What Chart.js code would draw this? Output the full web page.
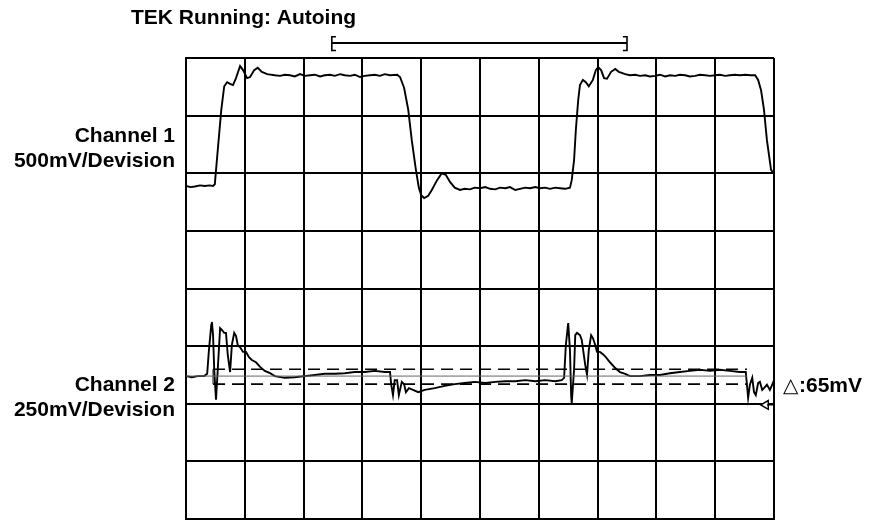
<!DOCTYPE html>
<html lang="en">

<head>
    <meta charset="UTF-8">
    <script src="https://cdn.jsdelivr.net/npm/chart.js@4.4.3/dist/chart.umd.min.js"></script>
    <style>
        html, body {
            margin: 0;
            padding: 0;
            background: #fff;
        }

        #wrap {
            width: 870px;
            height: 521px;
            position: relative;
        }
    </style>
</head>

<body>
    <div id="wrap"><canvas id="scope"></canvas></div>

    <script>
        // screen is 10 x 8 divisions, values below are in divisions
        const ch1Time = [0, 0.08, 0.15, 0.24, 0.32, 0.40, 0.46, 0.49, 0.54, 0.60, 0.65, 0.70, 0.75, 0.80, 0.85, 0.92, 0.97, 1.04, 1.09, 1.16, 1.22, 1.29, 1.38,
            1.51, 1.60, 1.68, 1.77, 1.85, 1.94, 2.02, 2.11, 2.19, 2.28, 2.36, 2.45, 2.53, 2.62, 2.70, 2.79, 2.87, 2.96, 3.04, 3.13, 3.21, 3.30, 3.38, 3.47, 3.59,
            3.64, 3.71, 3.78, 3.84, 3.91, 3.96, 4.00, 4.05, 4.12, 4.18, 4.27, 4.35, 4.42, 4.49, 4.57,
            4.66, 4.74, 4.83, 4.91, 5.00, 5.09, 5.17, 5.26, 5.34, 5.43, 5.51, 5.60, 5.68, 5.77, 5.85, 5.94, 6.02, 6.11, 6.19, 6.28, 6.36, 6.45, 6.53,
            6.56, 6.60, 6.63, 6.67, 6.70, 6.75, 6.80, 6.85, 6.92, 6.97, 7.01, 7.06, 7.11, 7.16, 7.23, 7.30, 7.36,
            7.47, 7.55, 7.64, 7.72, 7.81, 7.89, 7.98, 8.06, 8.15, 8.23, 8.32, 8.40, 8.49, 8.57, 8.66, 8.74, 8.83, 8.91, 9.00, 9.08, 9.17, 9.25, 9.34, 9.42, 9.51, 9.60, 9.68,
            9.73, 9.78, 9.83, 9.88, 9.95, 10.0];
        const ch1Level = [5.78, 5.76, 5.77, 5.79, 5.78, 5.79, 5.78, 5.81, 6.40, 7.10, 7.51, 7.58, 7.55, 7.53, 7.65, 7.86, 7.79, 7.65, 7.67, 7.79, 7.83, 7.76, 7.72,
            7.70, 7.69, 7.71, 7.70, 7.68, 7.72, 7.69, 7.70, 7.71, 7.68, 7.70, 7.71, 7.69, 7.72, 7.70, 7.69, 7.71, 7.67, 7.69, 7.70, 7.71, 7.69, 7.72, 7.70, 7.71,
            7.67, 7.48, 7.10, 6.57, 6.06, 5.75, 5.62, 5.57, 5.61, 5.71, 5.88, 6.00, 5.97, 5.85, 5.75,
            5.71, 5.73, 5.72, 5.75, 5.74, 5.76, 5.73, 5.72, 5.75, 5.74, 5.76, 5.71, 5.73, 5.75, 5.74, 5.76, 5.74, 5.75, 5.73, 5.75, 5.74, 5.73, 5.75,
            5.88, 6.23, 6.75, 7.27, 7.53, 7.62, 7.58, 7.51, 7.62, 7.79, 7.84, 7.79, 7.65, 7.64, 7.76, 7.81, 7.76,
            7.72, 7.70, 7.71, 7.69, 7.70, 7.68, 7.69, 7.71, 7.68, 7.70, 7.69, 7.71, 7.70, 7.68, 7.69, 7.71, 7.70, 7.69, 7.70, 7.71, 7.69, 7.70, 7.71, 7.70, 7.71, 7.70, 7.70,
            7.62, 7.44, 7.10, 6.57, 6.06, 5.99];

        const ch2Time = [0, 0.10, 0.20, 0.31, 0.36, 0.39, 0.43, 0.44, 0.46, 0.48, 0.51, 0.54, 0.58, 0.61, 0.65, 0.68, 0.71, 0.75, 0.78, 0.82, 0.85, 0.88, 0.92,
            0.97, 1.02, 1.07, 1.12, 1.19, 1.26, 1.34, 1.43, 1.51, 1.68, 1.85, 2.02, 2.19, 2.36, 2.53, 2.70, 2.87, 3.04, 3.21, 3.38, 3.47,
            3.49, 3.52, 3.55, 3.59, 3.62, 3.67, 3.71, 3.74, 3.79, 3.86, 3.95, 4.06, 4.23, 4.40, 4.57, 4.74, 4.91, 5.09, 5.26, 5.43, 5.60, 5.77, 5.94, 6.11, 6.28, 6.39,
            6.43, 6.46, 6.50, 6.53, 6.55, 6.56, 6.60, 6.62, 6.65, 6.70, 6.73, 6.79, 6.82, 6.85, 6.89, 6.92, 6.96, 6.99, 7.04, 7.09, 7.14, 7.21, 7.30, 7.38, 7.47,
            7.55, 7.72, 7.89, 8.06, 8.23, 8.40, 8.57, 8.74, 8.91, 9.08, 9.25, 9.42, 9.52,
            9.54, 9.56, 9.59, 9.63, 9.66, 9.69, 9.73, 9.76, 9.80, 9.83, 9.88, 9.93, 9.97, 10.0];
        const ch2Level = [2.48, 2.46, 2.48, 2.48, 2.52, 2.93, 3.37, 3.42, 3.19, 2.59, 2.07, 2.59, 3.31, 3.28, 3.23, 3.23, 2.85, 2.55, 3.02, 3.23, 3.18, 3.02, 2.98,
            2.90, 2.90, 2.81, 2.76, 2.72, 2.64, 2.57, 2.53, 2.48, 2.45, 2.46, 2.48, 2.50, 2.52, 2.52, 2.53, 2.55, 2.55, 2.57, 2.55, 2.55,
            2.33, 2.15, 2.41, 2.41, 2.15, 2.38, 2.34, 2.20, 2.27, 2.24, 2.20, 2.24, 2.27, 2.31, 2.34, 2.36, 2.38, 2.36, 2.38, 2.39, 2.39, 2.41, 2.39, 2.41, 2.39, 2.41,
            2.45, 3.02, 3.40, 2.93, 2.15, 2.01, 2.59, 3.19, 3.23, 3.19, 3.11, 2.67, 2.50, 2.93, 3.19, 3.14, 3.02, 2.90, 2.90, 2.86, 2.81, 2.72, 2.62, 2.55, 2.52,
            2.48, 2.48, 2.50, 2.50, 2.53, 2.55, 2.57, 2.59, 2.57, 2.59, 2.57, 2.55, 2.55,
            2.33, 2.10, 2.33, 2.45, 2.20, 2.15, 2.36, 2.38, 2.24, 2.27, 2.33, 2.24, 2.33, 2.41];

        // measurement cursors on channel 2
        const cursorStart = 0.46;
        const cursorEnd = 9.54;
        const cursorHigh = 2.60;
        const cursorLow = 2.34;
        const ch2Reference = 2.48;
        const ch2Ground = 1.98;

        // time bracket above the screen
        const bracketStart = 2.48;
        const bracketEnd = 7.50;
        const bracketLevel = 8.26;
        const bracketTop = 8.37;
        const bracketBottom = 8.13;

        const titleText = "TEK Running: Autoing";
        const channelLabels = [["Channel 1", "500mV/Devision"], ["Channel 2", "250mV/Devision"]];
        const deltaText = ":65mV";

        function points(xs, ys) {
            return xs.map((x, i) => ({ x: x, y: ys[i] }));
        }

        function line_set(data, opts) {
            return Object.assign({
                data: data,
                borderColor: "#000",
                borderWidth: 1.9,
                pointRadius: 0,
                tension: 0,
                fill: false
            }, opts || {});
        }

        const labelFont = "bold 21px 'Liberation Sans', Arial, sans-serif";

        let textPlugin = {
            id: "scopeText",
            afterDraw(chart) {
                let c = chart.ctx;
                let area = chart.chartArea;
                c.save();
                c.fillStyle = "#000";
                c.font = labelFont;
                c.textAlign = "left";
                c.textBaseline = "alphabetic";
                c.fillText(titleText, 131, 24);

                c.textAlign = "right";
                c.fillText(channelLabels[0][0], area.left - 11, 142);
                c.fillText(channelLabels[0][1], area.left - 11, 167);
                c.fillText(channelLabels[1][0], area.left - 11, 391);
                c.fillText(channelLabels[1][1], area.left - 11, 416);

                // delta readout
                c.textAlign = "left";
                c.font = "20px 'DejaVu Sans', sans-serif";
                c.fillText("\u25B3", area.right + 9, 392);
                c.font = labelFont;
                c.fillText(deltaText, area.right + 25, 392);
                c.restore();
            }
        };

        let bgPlugin = {
            id: "whiteBg",
            beforeDraw(chart) {
                let c = chart.ctx;
                c.save();
                c.fillStyle = "#fff";
                c.fillRect(0, 0, chart.width, chart.height);
                c.restore();
            }
        };

        let ctx = document.getElementById("scope");
        let chartjs = new Chart(ctx, {
            type: "line",
            data: {
                datasets: [
                    line_set([{ x: 0, y: ch2Reference }, { x: cursorEnd, y: ch2Reference }], { borderColor: "#666", borderWidth: 1 }),
                    line_set([{ x: cursorStart, y: cursorHigh }, { x: cursorEnd, y: cursorHigh }], { borderDash: [12, 7], borderWidth: 1.6 }),
                    line_set([{ x: cursorStart, y: cursorLow }, { x: cursorEnd, y: cursorLow }], { borderDash: [12, 7], borderWidth: 1.6 }),
                    line_set([{ x: cursorStart, y: cursorLow }, { x: cursorStart, y: cursorHigh }], { borderWidth: 1 }),
                    line_set(points(ch1Time, ch1Level)),
                    line_set(points(ch2Time, ch2Level)),
                    // ground marker
                    line_set([{ x: 9.88, y: ch2Ground }, { x: 10, y: ch2Ground }], { borderWidth: 1.2 }),
                    line_set([{ x: 9.86, y: ch2Ground }], {
                        pointRadius: 5, pointStyle: "triangle", rotation: 270,
                        pointBackgroundColor: "#fff", pointBorderColor: "#000", pointBorderWidth: 1.4, showLine: false
                    }),
                    // bracket
                    line_set([{ x: bracketStart, y: bracketLevel }, { x: bracketEnd, y: bracketLevel }], { clip: false, borderWidth: 2 }),
                    line_set([{ x: bracketStart + 0.07, y: bracketTop }, { x: bracketStart, y: bracketTop }, { x: bracketStart, y: bracketBottom }, { x: bracketStart + 0.07, y: bracketBottom }], { clip: false, borderWidth: 1.6 }),
                    line_set([{ x: bracketEnd - 0.07, y: bracketTop }, { x: bracketEnd, y: bracketTop }, { x: bracketEnd, y: bracketBottom }, { x: bracketEnd - 0.07, y: bracketBottom }], { clip: false, borderWidth: 1.6 })
                ]
            },
            options: {
                responsive: true,
                maintainAspectRatio: false,
                animation: false,
                events: [],
                layout: {
                    autoPadding: false,
                    padding: { left: 186, right: 96, top: 58, bottom: 2 }
                },
                plugins: {
                    legend: { display: false },
                    tooltip: { enabled: false },
                    title: { display: false }
                },
                scales: {
                    x: {
                        type: "linear",
                        min: 0,
                        max: 10,
                        ticks: { display: false, stepSize: 1 },
                        grid: { color: "#000", lineWidth: 2, drawTicks: false },
                        border: { display: true, color: "#000", width: 2 },
                        afterFit(scale) { scale.height = 0; }
                    },
                    y: {
                        type: "linear",
                        min: 0,
                        max: 8,
                        ticks: { display: false, stepSize: 1 },
                        grid: { color: "#000", lineWidth: 2, drawTicks: false },
                        border: { display: true, color: "#000", width: 2 },
                        afterFit(scale) { scale.width = 0; }
                    }
                }
            },
            plugins: [bgPlugin, textPlugin]
        });
    </script>
</body>

</html>
